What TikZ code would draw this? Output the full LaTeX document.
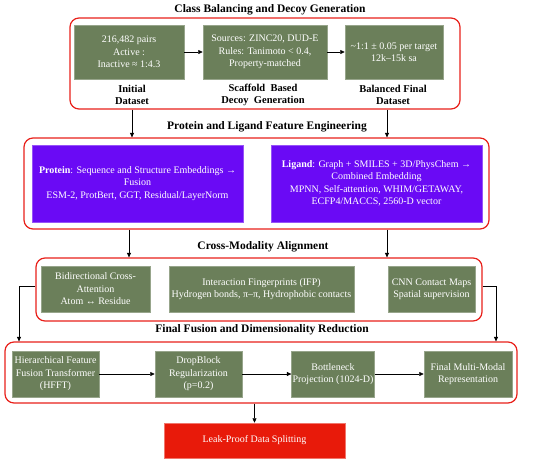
\documentclass[tikz,border=0pt]{standalone}
\usepackage{fontspec}
\setmainfont{Liberation Serif}
\usetikzlibrary{arrows.meta}
\definecolor{boxgreen}{HTML}{6B7F5A}
\definecolor{boxpurple}{HTML}{6A0AF5}
\definecolor{framered}{HTML}{E8201A}
\definecolor{leakred}{HTML}{E81A0A}
\begin{document}
\begin{tikzpicture}[x=1pt,y=-1pt,
  gbox/.style={fill=boxgreen, draw=boxgreen!70!white, line width=0.5pt, text=white, align=center, inner sep=1pt, font=\fontsize{10}{12.5}\selectfont},
  pbox/.style={fill=boxpurple, draw=boxpurple!70!white, line width=0.5pt, text=white, align=center, inner sep=1pt, font=\fontsize{10}{12.5}\selectfont},
  frame/.style={draw=framered, line width=1.2pt, rounded corners=9pt},
  ttl/.style={font=\bfseries\fontsize{11.5}{13}\selectfont},
  lab/.style={font=\bfseries\fontsize{10.5}{12}\selectfont, align=center},
  arr/.style={-{Triangle[length=4.5pt,width=4pt]}, line width=0.6pt, black},
]
\useasboundingbox (0,0) rectangle (550,464);
% Section 1
\node[ttl] (t1) at (270,10) {Class Balancing and Decoy Generation};
\node[frame, minimum width=390pt, minimum height=91pt] (f1) at (265,63.5) {};
\node[gbox, minimum width=110pt, minimum height=54pt] (b1) at (129,52) {216,482 pairs\\Active :\\Inactive ≈ 1:4.3};
\node[gbox, minimum width=124pt, minimum height=54pt] (b2) at (265,52) {Sources: ZINC20, DUD-E\\Rules: Tanimoto < 0.4,\\Property-matched};
\node[gbox, minimum width=98pt, minimum height=54pt] (b3) at (394,52) {\symbol{126}1:1 ± 0.05 per target\\12k–15k sa};
\node[lab] (l1) at (132,95) {Initial\\Dataset};
\node[lab] (l2) at (263,95) {Scaffold\ \ Based\\Decoy\ \ Generation};
\node[lab] (l3) at (393,95) {Balanced Final\\Dataset};
\draw[arr] (b1) -- (b2);
\draw[arr] (b2) -- (b3);
% Section 2
\node[ttl] (t2) at (267,127) {Protein and Ligand Feature Engineering};
\node[frame, minimum width=465pt, minimum height=91pt] (f2) at (256.5,183.5) {};
\node[pbox, minimum width=211pt, minimum height=77pt] (p1) at (137.5,183.5) {\textbf{Protein}: Sequence and Structure Embeddings →\\Fusion\\ESM-2, ProtBert, GGT, Residual/LayerNorm};
\node[pbox, minimum width=211pt, minimum height=77pt] (p2) at (376.5,183.5) {\textbf{Ligand}: Graph + SMILES + 3D/PhysChem →\\Combined Embedding\\MPNN, Self-attention, WHIM/GETAWAY,\\ECFP4/MACCS, 2560-D vector};
\coordinate (xa) at (132,0);
\coordinate (xb) at (387,0);
\draw[arr] (f1.south -| xa) -- (f2.north -| xa);
\draw[arr] (f1.south -| xb) -- (f2.north -| xb);
% Section 3
\node[ttl] (t3) at (263,247) {Cross-Modality Alignment};
\node[frame, minimum width=446pt, minimum height=63pt] (f3) at (259,289.5) {};
\node[gbox, minimum width=109pt, minimum height=46pt] (c1) at (95.5,289) {Bidirectional Cross-\\Attention\\Atom ↔ Residue};
\node[gbox, minimum width=185pt, minimum height=46pt] (c2) at (261.5,289) {Interaction Fingerprints (IFP)\\Hydrogen bonds, π–π, Hydrophobic contacts};
\node[gbox, minimum width=87pt, minimum height=46pt] (c3) at (431.5,289) {CNN Contact Maps\\Spatial supervision};
\coordinate (xc) at (129,0);
\draw[arr] (f2.south -| xc) -- (f3.north -| xc);
\draw[arr] (f2.south -| xb) -- (f3.north -| xb);
% Section 4
\node[ttl] (t4) at (262,330) {Final Fusion and Dimensionality Reduction};
\node[frame, minimum width=512pt, minimum height=61pt] (f4) at (261,372.5) {};
\node[gbox, minimum width=87pt, minimum height=46pt] (h1) at (55.5,374) {Hierarchical Feature\\Fusion Transformer\\(HFFT)};
\node[gbox, minimum width=87pt, minimum height=46pt] (h2) at (198.5,374) {DropBlock\\Regularization\\(p=0.2)};
\node[gbox, minimum width=78pt, minimum height=46pt] (h3) at (333,374) {Bottleneck\\Projection (1024-D)};
\node[gbox, minimum width=88pt, minimum height=46pt] (h4) at (468,374) {Final Multi-Modal\\Representation};
\draw[arr] (h1) -- (h2);
\draw[arr] (h2) -- (h3);
\draw[arr] (h3) -- (h4);
\coordinate (xl) at (19,286);
\coordinate (xr) at (496,286);
\draw[arr] (f3.west |- xl) -- (xl) -- (f4.north -| xl);
\draw[arr] (f3.east |- xr) -- (xr) -- (f4.north -| xr);
% Leak-proof
\node[fill=leakred, draw=leakred!60!white, line width=0.5pt, text=white, font=\fontsize{10}{12.5}\selectfont, minimum width=181pt, minimum height=35pt] (lk) at (254.5,440.5) {Leak-Proof Data Splitting};
\draw[arr] (f4.south -| lk) -- (lk.north);
\end{tikzpicture}
\end{document}
